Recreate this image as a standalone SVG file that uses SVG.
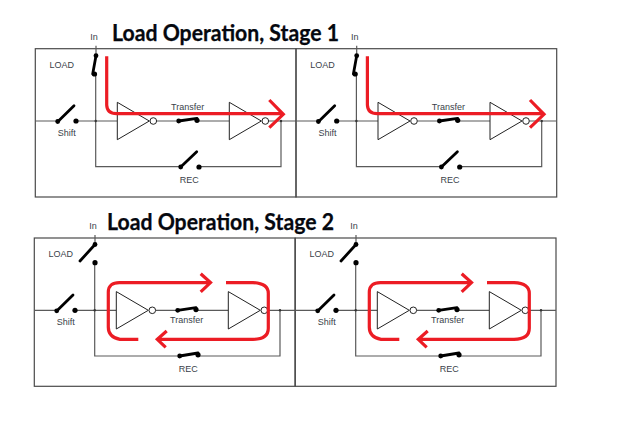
<svg xmlns="http://www.w3.org/2000/svg" width="620" height="422" viewBox="0 0 620 422">
<style>
.frame{fill:none;stroke:#4a4a4a;stroke-width:1.2}
.wire{fill:none;stroke:#5a5a5a;stroke-width:1.2}
.inv{fill:#fff;stroke:#222;stroke-width:1}
.sw{fill:none;stroke:#000;stroke-width:2.8;stroke-linecap:round}
.dot{fill:#000}
.jn{fill:#333}
.lbl{font:9px "Liberation Sans",Arial,sans-serif;fill:#3a3f4a;text-anchor:middle}
.title{font:700 22px Lato,"Open Sans",sans-serif;fill:#05080f;stroke:#05080f;stroke-width:.25}
.red{fill:none;stroke:#ec1c24;stroke-width:3.2;stroke-linejoin:miter}
</style>
<rect width="620" height="422" fill="#fff"/>
<text class="title" x="112" y="41" textLength="227" lengthAdjust="spacingAndGlyphs">Load Operation, Stage 1</text>
<text class="title" x="107" y="230" textLength="227" lengthAdjust="spacingAndGlyphs">Load Operation, Stage 2</text>

<g id="panel-s1-left">
<rect class="frame" x="35.3" y="48.7" width="260.7" height="148.3"/>
<g id="s1l-connectors"><path class="wire" d="M96 45.7V55.7M95.7 74V166.7H180.7M199 166.7H281V121M35.3 121H57.7M76 121H117.3M156.6 121H178.7M197 121H229.3M268.6 121H296"/><circle class="jn" cx="95.7" cy="121" r="1.2"/><circle class="jn" cx="281" cy="121" r="1.2"/></g>
<g id="s1l-load"><path class="sw" d="M96 55.7L92.7 74"/><circle class="dot" cx="96" cy="55.7" r="2.4"/><circle class="dot" cx="94.5" cy="74" r="2.6"/><text class="lbl" x="61.7" y="68">LOAD</text></g>
<g id="s1l-in"><text class="lbl" x="94" y="40">In</text></g>
<g id="s1l-shift"><path class="sw" d="M57.7 121.7L74 105.7"/><circle class="dot" cx="57.7" cy="121.5" r="2.4"/><circle class="dot" cx="76" cy="121" r="2.6"/><text class="lbl" x="66.7" y="136">Shift</text></g>
<g id="s1l-inv1"><path class="inv" d="M117.3 102.3V139.7L149.3 121Z"/><circle class="inv" cx="153.3" cy="121" r="3.3"/></g>
<g id="s1l-transfer"><path class="sw" d="M178.7 121L197 118.3"/><circle class="dot" cx="178.7" cy="121" r="2.4"/><circle class="dot" cx="197" cy="120.3" r="2.6"/><text class="lbl" x="187.7" y="110">Transfer</text></g>
<g id="s1l-inv2"><path class="inv" d="M229.3 102.3V139.7L261.3 121Z"/><circle class="inv" cx="265.3" cy="121" r="3.3"/></g>
<g id="s1l-rec"><path class="sw" d="M180.7 167L196.7 151.7"/><circle class="dot" cx="180.7" cy="167" r="2.4"/><circle class="dot" cx="199" cy="167" r="2.6"/><text class="lbl" x="189.3" y="183">REC</text></g>
<g id="s1l-flow"><path class="red" d="M106.7 56.3V105Q107 113.7 116.7 113.7H282M269.3 100L283.3 114.3L269.3 127.7"/></g>
</g>

<g id="panel-s1-right" transform="translate(260.7 0)">
<rect class="frame" x="35.3" y="48.7" width="260.7" height="148.3"/>
<g id="s1r-connectors"><path class="wire" d="M96 45.7V55.7M95.7 74V166.7H180.7M199 166.7H281V121M35.3 121H57.7M76 121H117.3M156.6 121H178.7M197 121H229.3M268.6 121H296"/><circle class="jn" cx="95.7" cy="121" r="1.2"/><circle class="jn" cx="281" cy="121" r="1.2"/></g>
<g id="s1r-load"><path class="sw" d="M96 55.7L92.7 74"/><circle class="dot" cx="96" cy="55.7" r="2.4"/><circle class="dot" cx="94.5" cy="74" r="2.6"/><text class="lbl" x="61.7" y="68">LOAD</text></g>
<g id="s1r-in"><text class="lbl" x="94" y="40">In</text></g>
<g id="s1r-shift"><path class="sw" d="M57.7 121.7L74 105.7"/><circle class="dot" cx="57.7" cy="121.5" r="2.4"/><circle class="dot" cx="76" cy="121" r="2.6"/><text class="lbl" x="66.7" y="136">Shift</text></g>
<g id="s1r-inv1"><path class="inv" d="M117.3 102.3V139.7L149.3 121Z"/><circle class="inv" cx="153.3" cy="121" r="3.3"/></g>
<g id="s1r-transfer"><path class="sw" d="M178.7 121L197 118.3"/><circle class="dot" cx="178.7" cy="121" r="2.4"/><circle class="dot" cx="197" cy="120.3" r="2.6"/><text class="lbl" x="187.7" y="110">Transfer</text></g>
<g id="s1r-inv2"><path class="inv" d="M229.3 102.3V139.7L261.3 121Z"/><circle class="inv" cx="265.3" cy="121" r="3.3"/></g>
<g id="s1r-rec"><path class="sw" d="M180.7 167L196.7 151.7"/><circle class="dot" cx="180.7" cy="167" r="2.4"/><circle class="dot" cx="199" cy="167" r="2.6"/><text class="lbl" x="189.3" y="183">REC</text></g>
<g id="s1r-flow"><path class="red" d="M106.7 56.3V105Q107 113.7 116.7 113.7H282M269.3 100L283.3 114.3L269.3 127.7"/></g>
</g>

<g id="panel-s2-left" transform="translate(-1 189.3)">
<rect class="frame" x="35.3" y="48.7" width="260.7" height="148.3"/>
<g id="s2l-connectors"><path class="wire" d="M96 45.7V55.7M95.7 74V166.7H180.7M199 166.7H281V121M35.3 121H57.7M76 121H117.3M156.6 121H178.7M197 121H229.3M268.6 121H296"/><circle class="jn" cx="95.7" cy="121" r="1.2"/><circle class="jn" cx="281" cy="121" r="1.2"/></g>
<g id="s2l-load"><path class="sw" d="M96 55.2L81 71.7"/><circle class="dot" cx="96" cy="55.2" r="2.4"/><circle class="dot" cx="96" cy="73.4" r="2.6"/><text class="lbl" x="61.7" y="68">LOAD</text></g>
<g id="s2l-in"><text class="lbl" x="94" y="40">In</text></g>
<g id="s2l-shift"><path class="sw" d="M57.7 121.7L74 105.7"/><circle class="dot" cx="57.7" cy="121.5" r="2.4"/><circle class="dot" cx="76" cy="121" r="2.6"/><text class="lbl" x="66.7" y="136">Shift</text></g>
<g id="s2l-inv1"><path class="inv" d="M117.3 102.3V139.7L149.3 121Z"/><circle class="inv" cx="153.3" cy="121" r="3.3"/></g>
<g id="s2l-transfer"><path class="sw" d="M178.7 121L197 118.3"/><circle class="dot" cx="178.7" cy="121" r="2.4"/><circle class="dot" cx="197" cy="120.3" r="2.6"/><text class="lbl" x="187.7" y="134">Transfer</text></g>
<g id="s2l-inv2"><path class="inv" d="M229.3 102.3V139.7L261.3 121Z"/><circle class="inv" cx="265.3" cy="121" r="3.3"/></g>
<g id="s2l-rec"><path class="sw" d="M180.7 166.7L199 163.7"/><circle class="dot" cx="180.7" cy="166.7" r="2.4"/><circle class="dot" cx="199" cy="165.5" r="2.6"/><text class="lbl" x="189.3" y="183">REC</text></g>
<g id="s2l-flow"><path class="red" d="M139.3 150H121Q109.3 148 109.3 138V103Q109.3 93 121 93.3H211M201.7 84.5L211.5 93.3L201.7 102.5M227 93.3H254Q269.3 94 269.3 104V139Q269.3 150 254 150H158.5M167.7 141.7L158.3 150L166.7 158"/></g>
</g>

<g id="panel-s2-right" transform="translate(260 189.3)">
<rect class="frame" x="35.3" y="48.7" width="260.7" height="148.3"/>
<g id="s2r-connectors"><path class="wire" d="M96 45.7V55.7M95.7 74V166.7H180.7M199 166.7H281V121M35.3 121H57.7M76 121H117.3M156.6 121H178.7M197 121H229.3M268.6 121H296"/><circle class="jn" cx="95.7" cy="121" r="1.2"/><circle class="jn" cx="281" cy="121" r="1.2"/></g>
<g id="s2r-load"><path class="sw" d="M96 55.2L81 71.7"/><circle class="dot" cx="96" cy="55.2" r="2.4"/><circle class="dot" cx="96" cy="73.4" r="2.6"/><text class="lbl" x="61.7" y="68">LOAD</text></g>
<g id="s2r-in"><text class="lbl" x="94" y="40">In</text></g>
<g id="s2r-shift"><path class="sw" d="M57.7 121.7L74 105.7"/><circle class="dot" cx="57.7" cy="121.5" r="2.4"/><circle class="dot" cx="76" cy="121" r="2.6"/><text class="lbl" x="66.7" y="136">Shift</text></g>
<g id="s2r-inv1"><path class="inv" d="M117.3 102.3V139.7L149.3 121Z"/><circle class="inv" cx="153.3" cy="121" r="3.3"/></g>
<g id="s2r-transfer"><path class="sw" d="M178.7 121L197 118.3"/><circle class="dot" cx="178.7" cy="121" r="2.4"/><circle class="dot" cx="197" cy="120.3" r="2.6"/><text class="lbl" x="187.7" y="134">Transfer</text></g>
<g id="s2r-inv2"><path class="inv" d="M229.3 102.3V139.7L261.3 121Z"/><circle class="inv" cx="265.3" cy="121" r="3.3"/></g>
<g id="s2r-rec"><path class="sw" d="M180.7 166.7L199 163.7"/><circle class="dot" cx="180.7" cy="166.7" r="2.4"/><circle class="dot" cx="199" cy="165.5" r="2.6"/><text class="lbl" x="189.3" y="183">REC</text></g>
<g id="s2r-flow"><path class="red" d="M139.3 150H121Q109.3 148 109.3 138V103Q109.3 93 121 93.3H211M201.7 84.5L211.5 93.3L201.7 102.5M227 93.3H254Q269.3 94 269.3 104V139Q269.3 150 254 150H158.5M167.7 141.7L158.3 150L166.7 158"/></g>
</g>
</svg>
